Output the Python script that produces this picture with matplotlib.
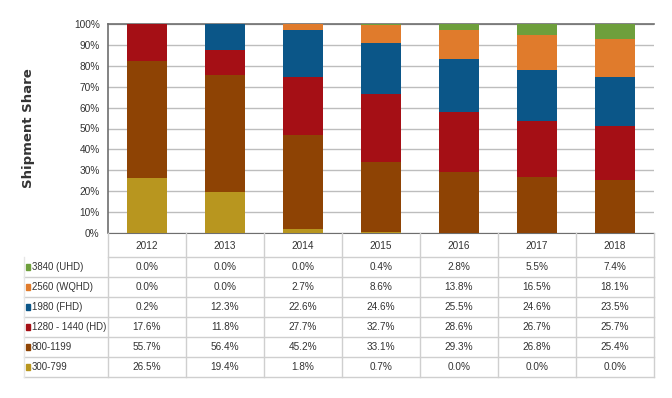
import matplotlib
matplotlib.use("Agg")
import matplotlib.pyplot as plt
import numpy as np

years = ["2012", "2013", "2014", "2015", "2016", "2017", "2018"]
series_names = ["3840 (UHD)", "2560 (WQHD)", "1980 (FHD)", "1280 - 1440 (HD)", "800-1199", "300-799"]
uhd = [0.0, 0.0, 0.0, 0.4, 2.8, 5.5, 7.4]
wqhd = [0.0, 0.0, 2.7, 8.6, 13.8, 16.5, 18.1]
fhd = [0.2, 12.3, 22.6, 24.6, 25.5, 24.6, 23.5]
hd = [17.6, 11.8, 27.7, 32.7, 28.6, 26.7, 25.7]
mid = [55.7, 56.4, 45.2, 33.1, 29.3, 26.8, 25.4]
low = [26.5, 19.4, 1.8, 0.7, 0.0, 0.0, 0.0]
yticks = [0, 10, 20, 30, 40, 50, 60, 70, 80, 90, 100]

colors = {"3840 (UHD)": "#6E9F3C", "2560 (WQHD)": "#E07B2C", "1980 (FHD)": "#0B5688",
          "1280 - 1440 (HD)": "#A50F15", "800-1199": "#8E4304", "300-799": "#B8961F"}
values = {"3840 (UHD)": uhd, "2560 (WQHD)": wqhd, "1980 (FHD)": fhd,
          "1280 - 1440 (HD)": hd, "800-1199": mid, "300-799": low}

FONT = "Liberation Sans"
W, H = 672, 398
fig = plt.figure(figsize=(W / 100, H / 100), dpi=100)
fig.patch.set_facecolor("white")

L, R, T, B = 108, 654, 24, 233
ax = fig.add_axes([L / W, 1 - B / H, (R - L) / W, (B - T) / H])
x = np.arange(len(years))
bottom = np.zeros(len(years))
for name in ["300-799", "800-1199", "1280 - 1440 (HD)", "1980 (FHD)", "2560 (WQHD)", "3840 (UHD)"]:
    v = np.array(values[name])
    ax.bar(x, v, 0.51, bottom=bottom, color=colors[name], zorder=3)
    bottom += v
ax.set_xlim(-0.5, len(years) - 0.5)
ax.set_ylim(0, 100)
ax.set_yticks(yticks)
ax.set_yticklabels([f"{t}%" for t in yticks], fontsize=7.3, family=FONT, color="#333333")
ax.set_xticks([])
ax.yaxis.grid(True, color="#BDBDBD", linewidth=1.0, zorder=0)
ax.tick_params(axis="y", length=0, pad=6)
for s in ["left", "top"]:
    ax.spines[s].set_color("#6E6E6E")
    ax.spines[s].set_linewidth(1.2)
ax.spines["right"].set_visible(False)
ax.spines["bottom"].set_color("#6E6E6E")
ax.set_ylabel("Shipment Share", fontsize=9.5, fontweight="bold", family="DejaVu Sans", color="#333333")
ax.yaxis.set_label_coords(-0.133, 0.5)

# table
tab = fig.add_axes([0, 0, 1, 1])
tab.set_xlim(0, W)
tab.set_ylim(H, 0)
tab.axis("off")
col_w = (R - L) / len(years)
hdr_bot = 257
row_h = 20
n_rows = len(series_names)
tbl_bot = hdr_bot + n_rows * row_h
gc = "#CFCFCF"
tab.plot([L, R], [hdr_bot, hdr_bot], color=gc, lw=1)
for i in range(n_rows):
    yb = hdr_bot + (i + 1) * row_h
    tab.plot([24, R], [yb, yb], color=gc, lw=1)
for j in range(len(years) + 1):
    xv = L + j * col_w
    tab.plot([xv, xv], [B, tbl_bot], color=gc, lw=1)
tab.plot([24, 24], [hdr_bot, tbl_bot], color="#E6E6E6", lw=1)
for j, yr in enumerate(years):
    tab.text(L + (j + 0.5) * col_w, (B + hdr_bot) / 2 + 1, yr, ha="center", va="center",
             fontsize=7.2, family=FONT, color="#333333")
for i, name in enumerate(series_names):
    yc = hdr_bot + (i + 0.5) * row_h
    tab.add_patch(plt.Rectangle((26, yc - 3), 4, 6, color=colors[name]))
    tab.text(31.5, yc, name, ha="left", va="center", fontsize=6.9, family=FONT, color="#333333")
    for j, v in enumerate(values[name]):
        tab.text(L + (j + 0.5) * col_w, yc, f"{v:.1f}%", ha="center", va="center",
                 fontsize=7.2, family=FONT, color="#333333")

fig.savefig("out.png", dpi=100, facecolor="white")
